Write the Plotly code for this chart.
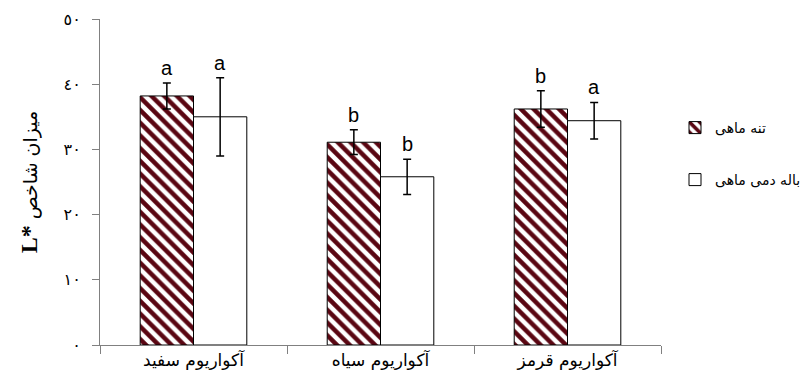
import plotly.graph_objects as go

categories = ["آکواریوم سفید", "آکواریوم سیاه", "آکواریوم قرمز"]
trunk_name = "تنه ماهی"
fin_name = "باله دمی ماهی"
trunk_vals = [38.2, 31.1, 36.2]
trunk_err = [2.0, 1.9, 2.8]
fin_vals = [35.0, 25.8, 34.4]
fin_err = [6.0, 2.7, 2.8]
trunk_letters = ["a", "b", "b"]
fin_letters = ["a", "b", "a"]
tick_vals = [0, 10, 20, 30, 40, 50]
tick_text = ["٠", "١٠", "٢٠", "٣٠", "٤٠", "٥٠"]

W, H = 800, 377  # page body has an 8px default margin

fig = go.Figure()
fig.add_trace(go.Bar(
    x=categories, y=trunk_vals, name=trunk_name, legend="legend",
    marker=dict(color="white", line=dict(color="black", width=1),
                pattern=dict(shape="\\", fgcolor="#5a0612", bgcolor="white",
                             fgopacity=1, size=9, solidity=0.5)),
    error_y=dict(type="data", array=trunk_err, color="black", thickness=1.5, width=4),
))
fig.add_trace(go.Bar(
    x=categories, y=fin_vals, name=fin_name, legend="legend2",
    marker=dict(color="white", line=dict(color="black", width=1)),
    error_y=dict(type="data", array=fin_err, color="black", thickness=1.5, width=4),
))

for i, c in enumerate(categories):
    for vals, errs, letters, off in ((trunk_vals, trunk_err, trunk_letters, -0.143),
                                     (fin_vals, fin_err, fin_letters, 0.143)):
        fig.add_annotation(
            x=i + off, y=vals[i] + errs[i], xref="x", yref="y",
            text=letters[i], showarrow=False, yanchor="bottom", yshift=2,
            font=dict(family="Liberation Sans, Arial", size=20, color="black"),
        )

fig.update_layout(
    width=W, height=H,
    margin=dict(l=92, r=147, t=11, b=40),
    paper_bgcolor="white", plot_bgcolor="white",
    barmode="group", bargap=0.43, bargroupgap=0,
    font=dict(family="DejaVu Sans", color="black"),
    legend=dict(xref="container", yref="container", x=667 / W, y=1 - 120 / H,
                xanchor="left", yanchor="middle", font=dict(size=14),
                bgcolor="rgba(0,0,0,0)"),
    legend2=dict(xref="container", yref="container", x=667 / W, y=1 - 172 / H,
                 xanchor="left", yanchor="middle", font=dict(size=14),
                 bgcolor="rgba(0,0,0,0)"),
    showlegend=True,
)
fig.update_xaxes(
    type="category", showline=True, linecolor="#808080", linewidth=1,
    ticks="outside", tickson="boundaries", ticklen=8, tickcolor="#808080",
    tickfont=dict(size=17), showgrid=False, zeroline=False, automargin=False,
)
fig.update_yaxes(
    range=[0, 50], tickvals=tick_vals, ticktext=tick_text,
    showline=True, linecolor="#808080", linewidth=1,
    ticks="outside", ticklen=7, tickcolor="#808080", tickfont=dict(size=16),
    ticklabelstandoff=8, automargin=False,
    showgrid=False, zeroline=False,
    title=dict(text="<b><span style='font-family:Liberation Serif;font-size:24px'>L*</span></b> میزان شاخص",
               font=dict(size=19), standoff=20),
)

fig.write_html("out.html")
